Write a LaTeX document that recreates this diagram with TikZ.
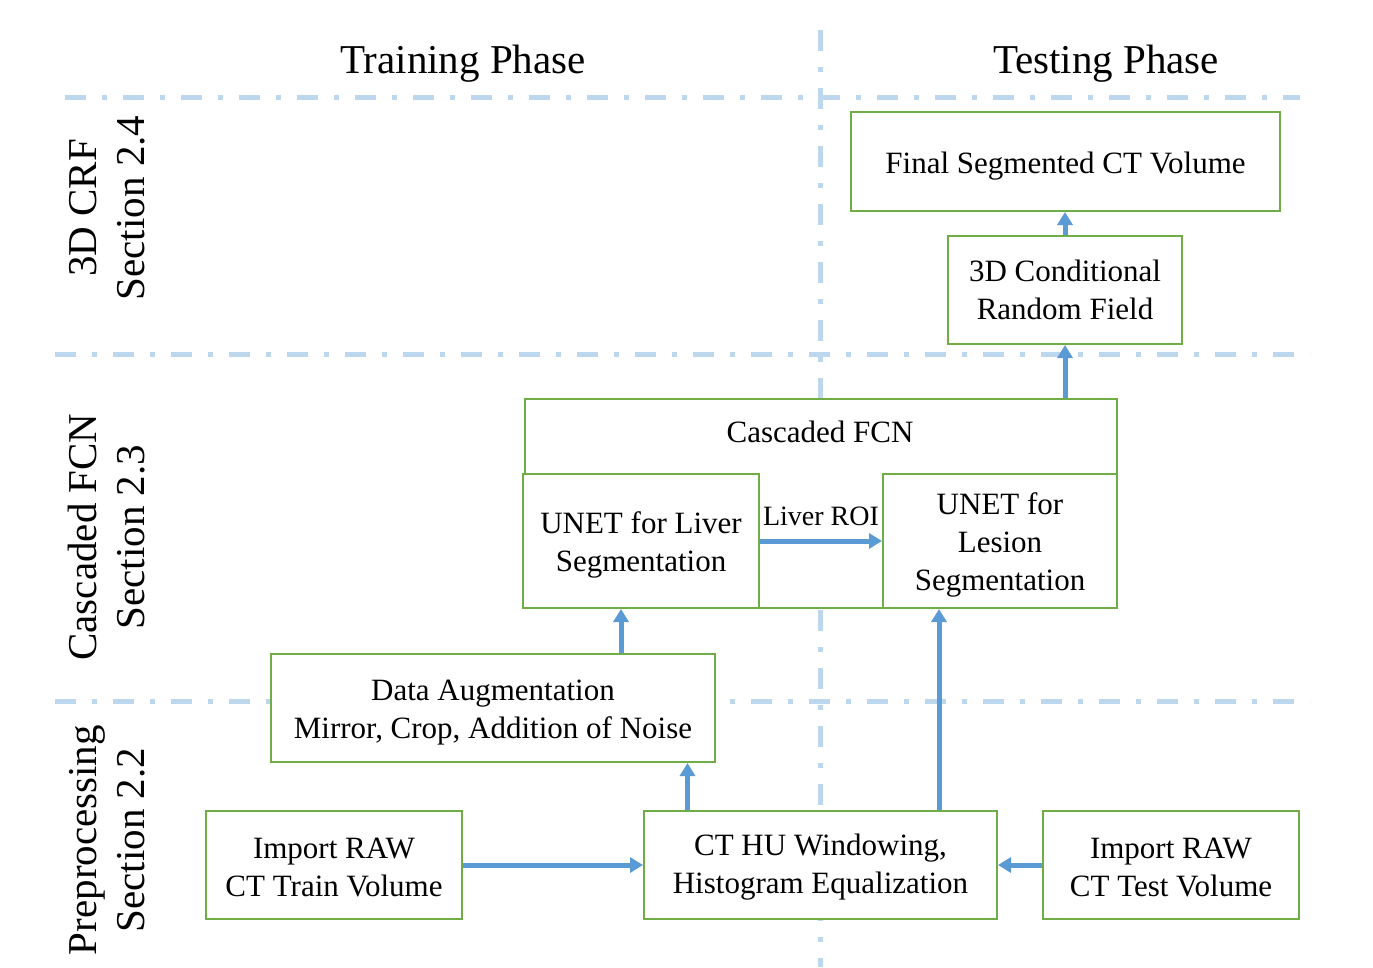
\documentclass[tikz,border=0pt]{standalone}
\usepackage{fontspec}
\setmainfont{Liberation Serif}
\usetikzlibrary{arrows.meta}
\definecolor{gridblue}{RGB}{189,215,238}
\definecolor{arrowblue}{RGB}{91,155,213}
\definecolor{boxgreen}{RGB}{112,173,71}
\newcommand{\lowertext}{\rule{0pt}{30pt}}
\tikzset{
  phasegrid/.style={draw=gridblue, line width=5pt, dash pattern=on 21pt off 16pt on 5pt off 16pt},
  stepbox/.style={draw=boxgreen, line width=2pt, fill=white, inner sep=0pt, align=center,
    font=\fontsize{31}{38}\selectfont},
  flow/.style={draw=arrowblue, line width=5pt, -{Triangle[width=15pt,length=13pt]}},
  title/.style={font=\fontsize{41}{48}\selectfont},
  sidelabel/.style={rotate=90, align=center, font=\fontsize{41}{48}\selectfont},
  plain/.style={font=\fontsize{31}{38}\selectfont, inner sep=0pt},
}
\begin{document}
\begin{tikzpicture}[x=1pt,y=-1pt]
\useasboundingbox (0,0) rectangle (1373,967);
% grid lines
\draw[phasegrid] (820,30) -- (820,967);
\draw[phasegrid] (65,97) -- (1300,97);
\draw[phasegrid] (55,354) -- (1310,354);
\draw[phasegrid] (55,701) -- (1310,701);
% titles
\node[title] (ttrain) at (463,64) {Training Phase};
\node[title] (ttest) at (1106,64) {Testing Phase};
% side labels
\node[sidelabel] (scrf) at (107,208) {3D CRF\\Section 2.4};
\node[sidelabel] (sfcn) at (107,537) {Cascaded FCN\\Section 2.3};
\node[sidelabel] (spre) at (107,840) {Preprocessing\\Section 2.2};
% boxes
\node[stepbox, minimum width=429pt, minimum height=99pt] (final) at (1065.5,161.5) {\lowertext Final Segmented CT Volume};
\node[stepbox, minimum width=234pt, minimum height=108pt] (crf) at (1065,290) {3D Conditional\\Random Field};
\node[stepbox, minimum width=592pt, minimum height=209pt] (cfcn) at (821,503.5) {};
\node[plain] (cfcnlabel) at (820,432) {Cascaded FCN};
\node[stepbox, minimum width=236pt, minimum height=134pt] (liver) at (641,541) {\lowertext UNET for Liver\\Segmentation};
\node[stepbox, minimum width=234pt, minimum height=134pt] (lesion) at (1000,541) {\lowertext UNET for\\Lesion\\Segmentation};
\node[stepbox, minimum width=444pt, minimum height=108pt] (aug) at (493,708) {\lowertext Data Augmentation\\Mirror, Crop, Addition of Noise};
\node[stepbox, minimum width=256pt, minimum height=108pt] (train) at (334,865) {\rule{0pt}{26pt}Import RAW\\CT Train Volume};
\node[stepbox, minimum width=353pt, minimum height=108pt] (ct) at (820.5,865) {\rule{0pt}{26pt}CT HU Windowing,\\Histogram Equalization};
\node[stepbox, minimum width=256pt, minimum height=108pt] (test) at (1171,865) {\rule{0pt}{26pt}Import RAW\\CT Test Volume};
\node[plain, font=\fontsize{28}{34}\selectfont] (roi) at (821,516) {Liver ROI};
% arrows
\draw[flow] (train.east) -- (ct.west);
\draw[flow] (test.west) -- (ct.east);
\draw[flow] ([xshift=-133pt]ct.north) -- ([xshift=-133pt]ct.north |- aug.south);
\draw[flow] ([xshift=-20pt]liver.south |- aug.north) -- ([xshift=-20pt]liver.south);
\draw[flow] ([xshift=-61pt]lesion.south |- ct.north) -- ([xshift=-61pt]lesion.south);
\draw[flow] (liver.east) -- (lesion.west);
\draw[flow] (crf.south |- cfcn.north) -- (crf.south);
\draw[flow] (crf.north) -- (crf.north |- final.south);
\end{tikzpicture}
\end{document}
